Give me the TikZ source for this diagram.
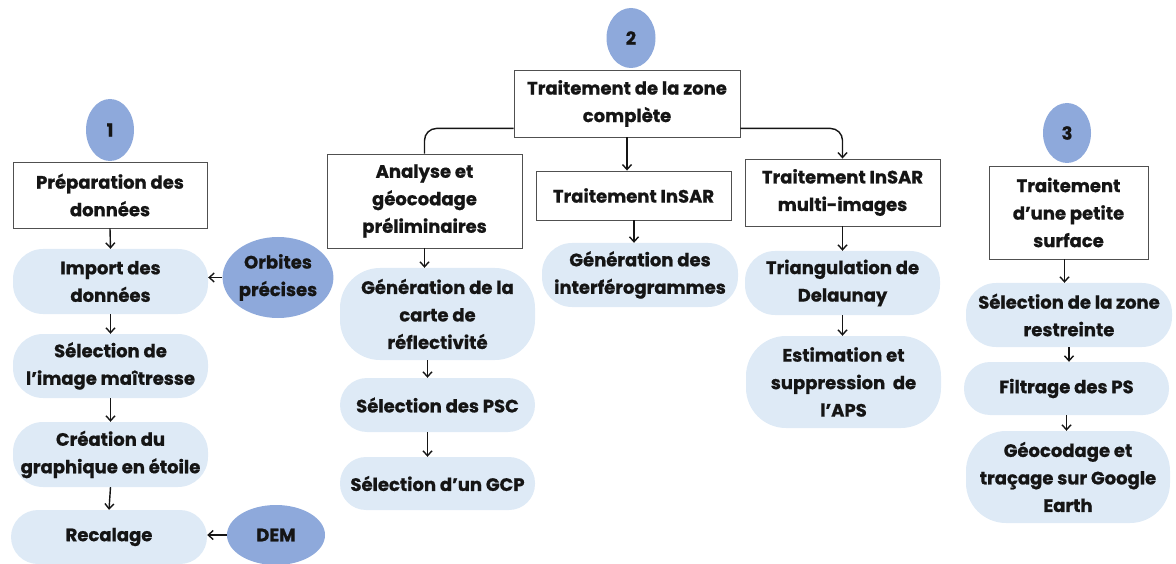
\documentclass[tikz,border=0pt]{standalone}
\usepackage{fontspec}
\setmainfont{Poppins}[BoldFeatures={FakeBold=0.8}]
\usetikzlibrary{arrows.meta,shapes.geometric}
\definecolor{numblue}{HTML}{8EA9DB}
\definecolor{pillblue}{HTML}{DEEAF6}
\definecolor{boxgray}{HTML}{505050}
\definecolor{txt}{HTML}{151515}
\begin{document}
\begin{tikzpicture}[x=1pt,y=-1pt,
  every node/.style={font=\fontsize{18}{27.5}\selectfont\bfseries, text=txt, align=center, inner sep=0pt},
  boxnode/.style={draw=boxgray, line width=0.9pt, fill=white},
  pill/.style={fill=pillblue, rounded corners=30pt},
  num/.style={ellipse, fill=numblue},
  arr/.style={line width=1.4pt, draw=txt, -{Straight Barb[length=5pt,width=9pt]}},
  link/.style={line width=1.4pt, draw=txt, rounded corners=12pt}]
\useasboundingbox (0,0) rectangle (1176,564);
% column 1
\node[num, minimum width=48pt, minimum height=62pt] (n1) at (110,130) {1};
\node[boxnode, minimum width=194pt, minimum height=66pt] (prep) at (110,195) {Préparation des\\données};
\node[pill, minimum width=195pt, minimum height=65pt] (import) at (110.5,281.5) {Import des\\données};
\node[pill, minimum width=195pt, minimum height=64pt] (selimg) at (110.5,366) {Sélection de\\l’image maîtresse};
\node[pill, minimum width=195pt, minimum height=65pt] (creation) at (110.5,454.5) {Création du\\graphique en étoile};
\node[pill, minimum width=196pt, minimum height=54pt, rounded corners=27pt] (recal) at (109,537) {Recalage};
\node[num, minimum width=100pt, minimum height=81pt] (orb) at (278,277.5) {Orbites\\précises};
\node[num, minimum width=98pt, minimum height=60pt] (dem) at (276,535) {DEM};
\draw[arr] (prep.south) -- (import.north);
\draw[arr] (import.south) -- (selimg.north);
\draw[arr] (selimg.south) -- (creation.north);
\draw[arr] (creation.south) -- (recal.north);
\draw[arr] (orb.west) -- (orb.west -| import.east);
\draw[arr] (dem.west) -- (dem.west -| recal.east);
% column 2
\node[num, minimum width=49pt, minimum height=60pt] (n2) at (631,38) {2};
\node[boxnode, minimum width=226pt, minimum height=67pt] (zone) at (627,103.5) {Traitement de la zone\\complète};
\node[boxnode, minimum width=195pt, minimum height=94pt] (analyse) at (424.5,201) {Analyse et\\géocodage\\préliminaires};
\node[boxnode, minimum width=195pt, minimum height=49pt] (insar) at (633.5,195.5) {Traitement InSAR};
\node[pill, minimum width=196pt, minimum height=64pt] (interf) at (640,275) {Génération des\\interférogrammes};
\node[boxnode, minimum width=195pt, minimum height=67pt] (multi) at (842.5,192.5) {Traitement InSAR\\multi-images};
\node[pill, minimum width=195pt, minimum height=64pt] (tri) at (842.5,283) {Triangulation de\\Delaunay};
\node[pill, minimum width=195pt, minimum height=92pt, rounded corners=40pt] (est) at (843.5,382) {Estimation et\\suppression\ \ de\\l’APS};
\node[pill, minimum width=195pt, minimum height=92pt, rounded corners=40pt] (gen) at (437.5,314) {Génération de la\\carte de\\réflectivité};
\node[pill, minimum width=195pt, minimum height=54pt, rounded corners=27pt] (psc) at (437.5,405) {Sélection des PSC};
\node[pill, minimum width=195pt, minimum height=53pt, rounded corners=26pt] (gcp) at (437.5,483.5) {Sélection d’un GCP};
\draw[link] ([yshift=9pt]zone.south west) -| (analyse.north);
\draw[arr, rounded corners=12pt] ([yshift=9pt]zone.south east) -| (multi.north);
\draw[arr] (zone.south) -- (zone.south |- insar.north);
\draw[arr] (insar.south -| interf.north) ++(-6,0) coordinate (ia) -- (ia |- interf.north);
\draw[arr] (analyse.south) -- (analyse.south |- gen.north);
\draw[arr] ([xshift=-10pt]gen.south) -- ([xshift=-10pt]psc.north);
\draw[arr] ([xshift=-10pt]psc.south) -- ([xshift=-10pt]gcp.north);
\draw[arr] (multi.south) -- (tri.north);
\draw[arr] (tri.south) -- (tri.south |- est.north);
% column 3
\node[num, minimum width=48pt, minimum height=60pt] (n3) at (1067,133) {3};
\node[boxnode, minimum width=159pt, minimum height=93pt] (petite) at (1068.5,212.5) {Traitement\\d’une petite\\surface};
\node[pill, minimum width=206pt, minimum height=64pt] (zrest) at (1069,315) {Sélection de la zone\\restreinte};
\node[pill, minimum width=205pt, minimum height=53pt, rounded corners=26pt] (filt) at (1066.5,388.5) {Filtrage des PS};
\node[pill, minimum width=204pt, minimum height=92pt, rounded corners=40pt] (geo) at (1068,477) {Géocodage et\\traçage sur Google\\Earth};
\draw[arr] ([xshift=-4pt]petite.south) -- ([xshift=-4pt]petite.south |- zrest.north);
\draw[arr] (zrest.south) -- (zrest.south |- filt.north);
\draw[arr] (filt.south) -- (filt.south |- geo.north);
\end{tikzpicture}
\end{document}
